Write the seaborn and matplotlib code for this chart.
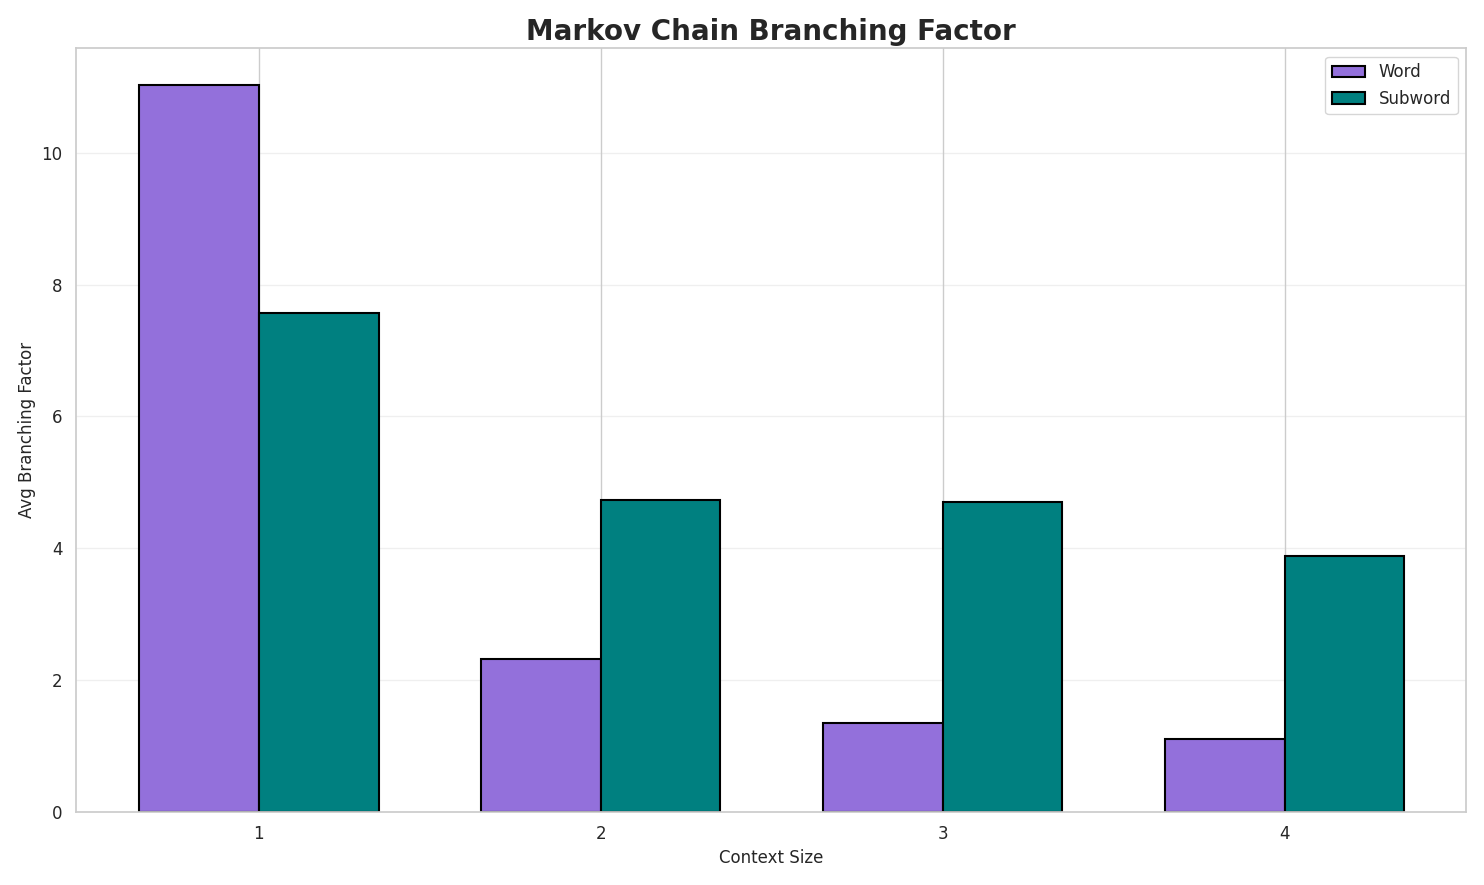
import matplotlib
matplotlib.use("Agg")
import matplotlib.pyplot as plt
import seaborn as sns
import pandas as pd

context = ["1", "2", "3", "4"]
word = [11.03, 2.33, 1.35, 1.11]
subword = [7.57, 4.73, 4.70, 3.89]

sns.set_theme(style="whitegrid")
df = pd.DataFrame({
    "Context Size": context * 2,
    "val": word + subword,
    "type": ["Word"] * 4 + ["Subword"] * 4,
})

fig, ax = plt.subplots(figsize=(14.84, 8.85), dpi=100)
sns.barplot(data=df, x="Context Size", y="val", hue="type",
            palette={"Word": "#9370DB", "Subword": "#008080"},
            width=0.7, edgecolor="black", linewidth=1.5, saturation=1, ax=ax)
ax.set_title("Markov Chain Branching Factor", fontsize=20, fontweight="bold")
ax.set_xlabel("Context Size", fontsize=12)
ax.set_ylabel("Avg Branching Factor", fontsize=12)
ax.tick_params(labelsize=12)
ax.set_xlim(-0.535, 3.53)
ax.xaxis.grid(True, color="#cccccc", linewidth=1)
ax.yaxis.grid(True, alpha=0.3)
ax.set_axisbelow(True)
ax.legend(title=None, fontsize=12, loc="upper right")
fig.tight_layout()
fig.savefig("out.png", dpi=100)
